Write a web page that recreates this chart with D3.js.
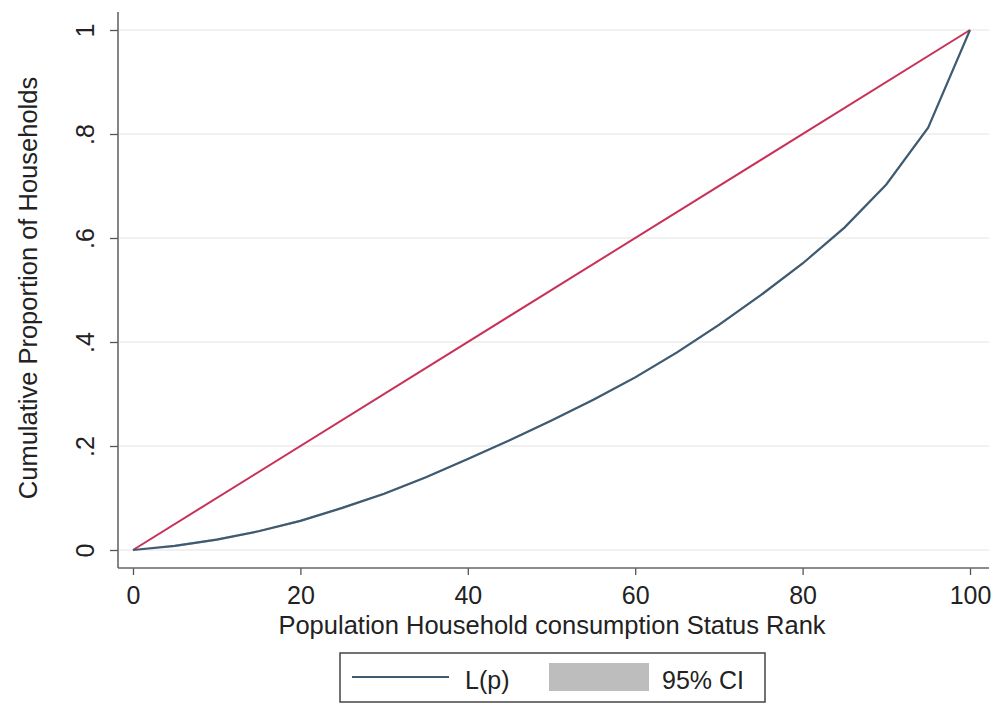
<!DOCTYPE html>
<html>
<head>
<meta charset="utf-8">
<style>
  body { margin: 0; background: #fff; }
  svg text { font-family: "Liberation Sans", Arial, sans-serif; fill: #222; }
</style>
</head>
<body>
<div id="chart"></div>
<script src="https://cdnjs.cloudflare.com/ajax/libs/d3/7.8.5/d3.min.js"></script>
<script>
// Lorenz curve data (percent rank vs cumulative share)
var rank = [0, 5, 10, 15, 20, 25, 30, 35, 40, 45, 50, 55, 60, 65, 70, 75, 80, 85, 90, 95, 100];
var lp = [0, 0.008, 0.020, 0.036, 0.056, 0.081, 0.108, 0.140, 0.175, 0.211, 0.249, 0.289, 0.332, 0.380, 0.433, 0.490, 0.551, 0.620, 0.703, 0.812, 1];
var ciLow = [0, 0.006, 0.018, 0.034, 0.054, 0.079, 0.106, 0.138, 0.173, 0.209, 0.247, 0.287, 0.330, 0.378, 0.431, 0.488, 0.549, 0.618, 0.701, 0.810, 1];
var ciHigh = [0, 0.010, 0.022, 0.038, 0.058, 0.083, 0.110, 0.142, 0.177, 0.213, 0.251, 0.291, 0.334, 0.382, 0.435, 0.492, 0.553, 0.622, 0.705, 0.814, 1];
var equality = [0, 1];
var equalityRank = [0, 100];

var xTicks = [0, 20, 40, 60, 80, 100];
var yTicks = [0, 0.2, 0.4, 0.6, 0.8, 1];
var yTickLabels = ["0", ".2", ".4", ".6", ".8", "1"];

var width = 998, height = 720;

var svg = d3.select("#chart").append("svg")
    .attr("width", width)
    .attr("height", height);

var x = d3.scaleLinear().domain([0, 100]).range([133, 970]);
var y = d3.scaleLinear().domain([0, 1]).range([550, 30]);

var plotLeft = 118, plotRight = 989, plotTop = 12, plotBottom = 568;

// gridlines
svg.append("g")
    .selectAll("line")
    .data(yTicks)
    .enter().append("line")
    .attr("x1", plotLeft)
    .attr("x2", plotRight)
    .attr("y1", d => y(d))
    .attr("y2", d => y(d))
    .attr("stroke", "#ececec")
    .attr("stroke-width", 1.3);

// y axis
var yAxis = d3.axisLeft(y)
    .tickValues(yTicks)
    .tickSize(8)
    .tickFormat((d, i) => yTickLabels[i]);

var gy = svg.append("g")
    .attr("transform", "translate(" + plotLeft + ",0)")
    .call(yAxis);
gy.select(".domain").remove();
gy.selectAll(".tick line").attr("stroke", "#555").attr("stroke-width", 1.3);
gy.selectAll(".tick text")
    .attr("font-size", 25)
    .attr("fill", "#222")
    .attr("text-anchor", "middle")
    .attr("dy", null)
    .attr("x", 0)
    .attr("y", 0)
    .attr("dominant-baseline", "middle")
    .attr("transform", "translate(-31,0) rotate(-90)");
gy.append("line")
    .attr("x1", 0).attr("x2", 0)
    .attr("y1", plotTop).attr("y2", plotBottom)
    .attr("stroke", "#666").attr("stroke-width", 1.6);

// x axis
var xAxis = d3.axisBottom(x)
    .tickValues(xTicks)
    .tickSize(7)
    .tickFormat(d3.format("d"));

var gx = svg.append("g")
    .attr("transform", "translate(0," + plotBottom + ")")
    .call(xAxis);
gx.select(".domain").remove();
gx.selectAll(".tick line").attr("stroke", "#555").attr("stroke-width", 1.3);
gx.selectAll(".tick text")
    .attr("font-size", 25)
    .attr("fill", "#222")
    .attr("dy", null)
    .attr("y", 36);
gx.append("line")
    .attr("x1", plotLeft).attr("x2", plotRight)
    .attr("y1", 0).attr("y2", 0)
    .attr("stroke", "#666").attr("stroke-width", 1.6);

// CI band
var ciData = rank.map((r, i) => ({ r: r, lo: ciLow[i], hi: ciHigh[i] }));
svg.append("path")
    .datum(ciData)
    .attr("d", d3.area().x(d => x(d.r)).y0(d => y(d.lo)).y1(d => y(d.hi)))
    .attr("fill", "#bdbdbd");

// equality line
svg.append("path")
    .datum(equalityRank.map((r, i) => ({ r: r, v: equality[i] })))
    .attr("d", d3.line().x(d => x(d.r)).y(d => y(d.v)))
    .attr("fill", "none")
    .attr("stroke", "#c8325a")
    .attr("stroke-width", 2);

// Lorenz curve
svg.append("path")
    .datum(rank.map((r, i) => ({ r: r, v: lp[i] })))
    .attr("d", d3.line().x(d => x(d.r)).y(d => y(d.v)))
    .attr("fill", "none")
    .attr("stroke", "#3f5b72")
    .attr("stroke-width", 2.2);

// axis titles
svg.append("text")
    .attr("x", 552)
    .attr("y", 634)
    .attr("text-anchor", "middle")
    .attr("font-size", 25.5)
    .text("Population Household consumption Status Rank");

svg.append("text")
    .attr("transform", "translate(37,288) rotate(-90)")
    .attr("text-anchor", "middle")
    .attr("font-size", 25.5)
    .text("Cumulative Proportion of Households");

// legend
var legend = svg.append("g");
legend.append("rect")
    .attr("x", 340).attr("y", 653)
    .attr("width", 425).attr("height", 49)
    .attr("fill", "#fff")
    .attr("stroke", "#444")
    .attr("stroke-width", 1.5);
legend.append("line")
    .attr("x1", 352).attr("x2", 449)
    .attr("y1", 677).attr("y2", 677)
    .attr("stroke", "#3f5b72")
    .attr("stroke-width", 2);
legend.append("text")
    .attr("x", 465).attr("y", 689)
    .attr("font-size", 25)
    .text("L(p)");
legend.append("rect")
    .attr("x", 549).attr("y", 663)
    .attr("width", 100).attr("height", 28)
    .attr("fill", "#bdbdbd");
legend.append("text")
    .attr("x", 662).attr("y", 689)
    .attr("font-size", 25)
    .text("95% CI");
</script>
</body>
</html>
